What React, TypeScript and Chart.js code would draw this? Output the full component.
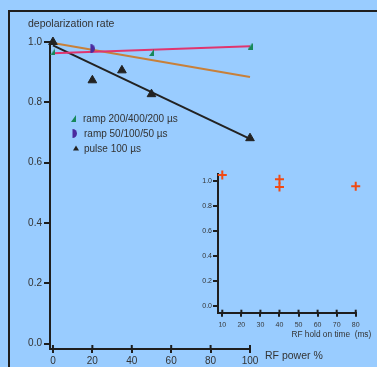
import React, { useEffect, useRef } from 'react';
import { Chart, registerables } from 'chart.js';
Chart.register(...registerables);

const FONT = '"Liberation Sans", Arial, Helvetica, sans-serif';
const TEXT = '#333333';
const AXIS = '#1e1e1e';
const BG = '#99ccff';

// main chart data
const powerTicks = [0, 20, 40, 60, 80, 100];
const rateTicks = [0, 0.2, 0.4, 0.6, 0.8, 1.0];
const pulsePower = [0, 20, 35, 50, 100];
const pulseRate = [1.0, 0.873, 0.906, 0.827, 0.681];
const ramp200Power = [0, 50, 100];
const ramp200Rate = [0.969, 0.965, 0.986];
const ramp50Power = [20];
const ramp50Rate = [0.978];
const fitPower = [0, 100];
const fitPulse = [0.989, 0.679];
const fitPink = [0.963, 0.986];
const fitOrange = [0.997, 0.884];
const legendLabels = ['ramp 200/400/200 µs', 'ramp 50/100/50 µs', 'pulse 100 µs'];

// inset data
const holdTicks = [10, 20, 30, 40, 50, 60, 70, 80];
const holdRateTicks = [0, 0.2, 0.4, 0.6, 0.8, 1.0];
const holdTime = [10, 40, 40, 80];
const holdRate = [1.045, 1.011, 0.95, 0.955];

const pts = (xs: number[], ys: number[]) => xs.map((x, i) => ({ x, y: ys[i] }));

function makeGreen(): HTMLCanvasElement {
  const c = document.createElement('canvas');
  c.width = 5; c.height = 7;
  const g = c.getContext('2d')!;
  g.fillStyle = '#17885a';
  g.beginPath(); g.moveTo(0, 7); g.lineTo(5, 7); g.lineTo(5, 0); g.closePath(); g.fill();
  return c;
}
function makePurple(): HTMLCanvasElement {
  const c = document.createElement('canvas');
  c.width = 5; c.height = 9;
  const g = c.getContext('2d')!;
  g.fillStyle = '#4b2a9e';
  g.beginPath(); g.moveTo(0.5, 0); g.arc(0.5, 4.5, 4.5, -Math.PI / 2, Math.PI / 2); g.closePath(); g.fill();
  return c;
}

const crossTicks = (len: number) => ({
  id: 'crossTicks',
  afterDraw(chart: any) {
    const ctx = chart.ctx;
    const xs = chart.scales.x;
    const yb = chart.chartArea.bottom;
    ctx.save();
    ctx.strokeStyle = AXIS;
    ctx.lineWidth = 2;
    xs.ticks.forEach((t: any) => {
      const px = xs.getPixelForValue(t.value);
      ctx.beginPath(); ctx.moveTo(px, yb - len); ctx.lineTo(px, yb); ctx.stroke();
    });
    ctx.restore();
  },
});

export default function App() {
  const mainRef = useRef<HTMLCanvasElement>(null);
  const insetRef = useRef<HTMLCanvasElement>(null);

  useEffect(() => {
    const green = makeGreen();
    const purple = makePurple();

    const legendPlugin = {
      id: 'legendDraw',
      afterDraw(chart: any) {
        const ctx = chart.ctx;
        ctx.save();
        ctx.font = `10px ${FONT}`;
        ctx.fillStyle = TEXT;
        ctx.textBaseline = 'middle';
        ctx.drawImage(green, 71, 115);
        ctx.fillText(legendLabels[0], 83, 119);
        ctx.drawImage(purple, 72, 129);
        ctx.fillText(legendLabels[1], 84, 134);
        ctx.fillStyle = '#222';
        ctx.beginPath(); ctx.moveTo(76, 145.5); ctx.lineTo(79, 150.5); ctx.lineTo(73, 150.5); ctx.closePath(); ctx.fill();
        ctx.fillStyle = TEXT;
        ctx.fillText(legendLabels[2], 84, 149.5);
        ctx.restore();
      },
    };

    const tickFont = { family: FONT, size: 10 };
    const main = new Chart(mainRef.current!, {
      type: 'scatter',
      data: {
        datasets: [
          { data: pts(pulsePower, pulseRate), pointStyle: 'triangle', pointRadius: 5, backgroundColor: '#222', borderColor: '#222', borderWidth: 1, clip: false } as any,
          { data: pts(ramp200Power, ramp200Rate), pointStyle: green, pointRadius: 4, clip: false } as any,
          { data: pts(ramp50Power, ramp50Rate), pointStyle: purple, pointRadius: 4, clip: false } as any,
          { data: pts(fitPower, fitPink), showLine: true, borderColor: '#e0356f', borderWidth: 2, pointRadius: 0, clip: false } as any,
          { data: pts(fitPower, fitPulse), showLine: true, borderColor: '#222222', borderWidth: 2, pointRadius: 0, clip: false } as any,
          { data: pts(fitPower, fitOrange), showLine: true, borderColor: '#c8803a', borderWidth: 2, pointRadius: 0, clip: false } as any,
        ],
      },
      options: {
        animation: false,
        responsive: false,
        events: [],
        layout: { padding: { left: 0, right: 127, top: 42, bottom: 0 } },
        plugins: { legend: { display: false }, tooltip: { enabled: false }, title: { display: false } },
        scales: {
          x: {
            type: 'linear', min: -1.5, max: 100,
            afterBuildTicks: (s: any) => { s.ticks = powerTicks.map((v) => ({ value: v })); },
            afterFit: (s: any) => { s.height = 18; },
            ticks: { font: tickFont, color: TEXT, padding: 2, maxRotation: 0, autoSkip: false, callback: (v: any) => String(v) },
            grid: { drawOnChartArea: false, drawTicks: true, tickLength: 4, lineWidth: 2, color: AXIS, tickColor: AXIS },
            border: { display: true, color: AXIS, width: 2 },
          },
          y: {
            type: 'linear', min: -0.018, max: 1.0,
            afterBuildTicks: (s: any) => { s.ticks = rateTicks.map((v) => ({ value: v })); },
            afterFit: (s: any) => { s.width = 50; },
            ticks: { font: tickFont, color: TEXT, padding: 2, autoSkip: false, callback: (v: any) => Number(v).toFixed(1) },
            grid: { drawOnChartArea: false, drawTicks: true, tickLength: 6, lineWidth: 2, color: AXIS, tickColor: AXIS },
            border: { display: true, color: AXIS, width: 2 },
          },
        },
      } as any,
      plugins: [crossTicks(4), legendPlugin],
    });

    const smallFont = { family: FONT, size: 7 };
    const inset = new Chart(insetRef.current!, {
      type: 'scatter',
      data: {
        datasets: [
          { data: pts(holdTime, holdRate), pointStyle: 'cross', pointRadius: 4.5, borderColor: '#f04a14', backgroundColor: '#f04a14', borderWidth: 2, clip: false } as any,
        ],
      },
      options: {
        animation: false,
        responsive: false,
        events: [],
        layout: { padding: { left: 0, right: 20.7, top: 14.4, bottom: 40.3 } },
        plugins: { legend: { display: false }, tooltip: { enabled: false } },
        scales: {
          x: {
            type: 'linear', min: 7.75, max: 80.3,
            afterBuildTicks: (s: any) => { s.ticks = holdTicks.map((v) => ({ value: v })); },
            afterFit: (s: any) => { s.height = 14; },
            ticks: { font: smallFont, color: TEXT, padding: 4, maxRotation: 0, autoSkip: false, callback: (v: any) => String(v) },
            grid: { drawOnChartArea: false, drawTicks: true, tickLength: 4, lineWidth: 2, color: AXIS, tickColor: AXIS },
            border: { display: true, color: AXIS, width: 2 },
          },
          y: {
            type: 'linear', min: -0.053, max: 1.05,
            afterBuildTicks: (s: any) => { s.ticks = holdRateTicks.map((v) => ({ value: v })); },
            afterFit: (s: any) => { s.width = 38; },
            ticks: { font: smallFont, color: TEXT, padding: 1, autoSkip: false, callback: (v: any) => Number(v).toFixed(1) },
            grid: { drawOnChartArea: false, drawTicks: true, tickLength: 5, lineWidth: 2, color: AXIS, tickColor: AXIS },
            border: { display: true, color: AXIS, width: 2 },
          },
        },
      } as any,
      plugins: [crossTicks(3)],
    });

    return () => { main.destroy(); inset.destroy(); };
  }, []);

  const label = (text: string, left: number, top: number, size: number, lh: number) => (
    <div style={{ position: 'absolute', left, top, fontFamily: FONT, fontSize: size, lineHeight: `${lh}px`, color: TEXT, whiteSpace: 'pre' }}>{text}</div>
  );

  return (
    <div style={{ position: 'absolute', left: 0, top: 0, width: 377, height: 367, overflow: 'hidden', background: BG }}>
      <div style={{ position: 'absolute', left: 8, top: 10, width: 500, height: 500, borderTop: `2px solid ${AXIS}`, borderLeft: `2px solid ${AXIS}` }} />
      <canvas ref={mainRef} width={377} height={367} style={{ position: 'absolute', left: 0, top: 0, width: 377, height: 367 }} />
      <canvas ref={insetRef} width={197} height={207} style={{ position: 'absolute', left: 180, top: 160, width: 197, height: 207 }} />
      {label('depolarization rate', 28, 17, 10.5, 12)}
      {label('RF power %', 265, 349, 10.5, 12)}
      {label('RF hold on time  (ms)', 291.5, 329.3, 8.3, 10)}
    </div>
  );
}
